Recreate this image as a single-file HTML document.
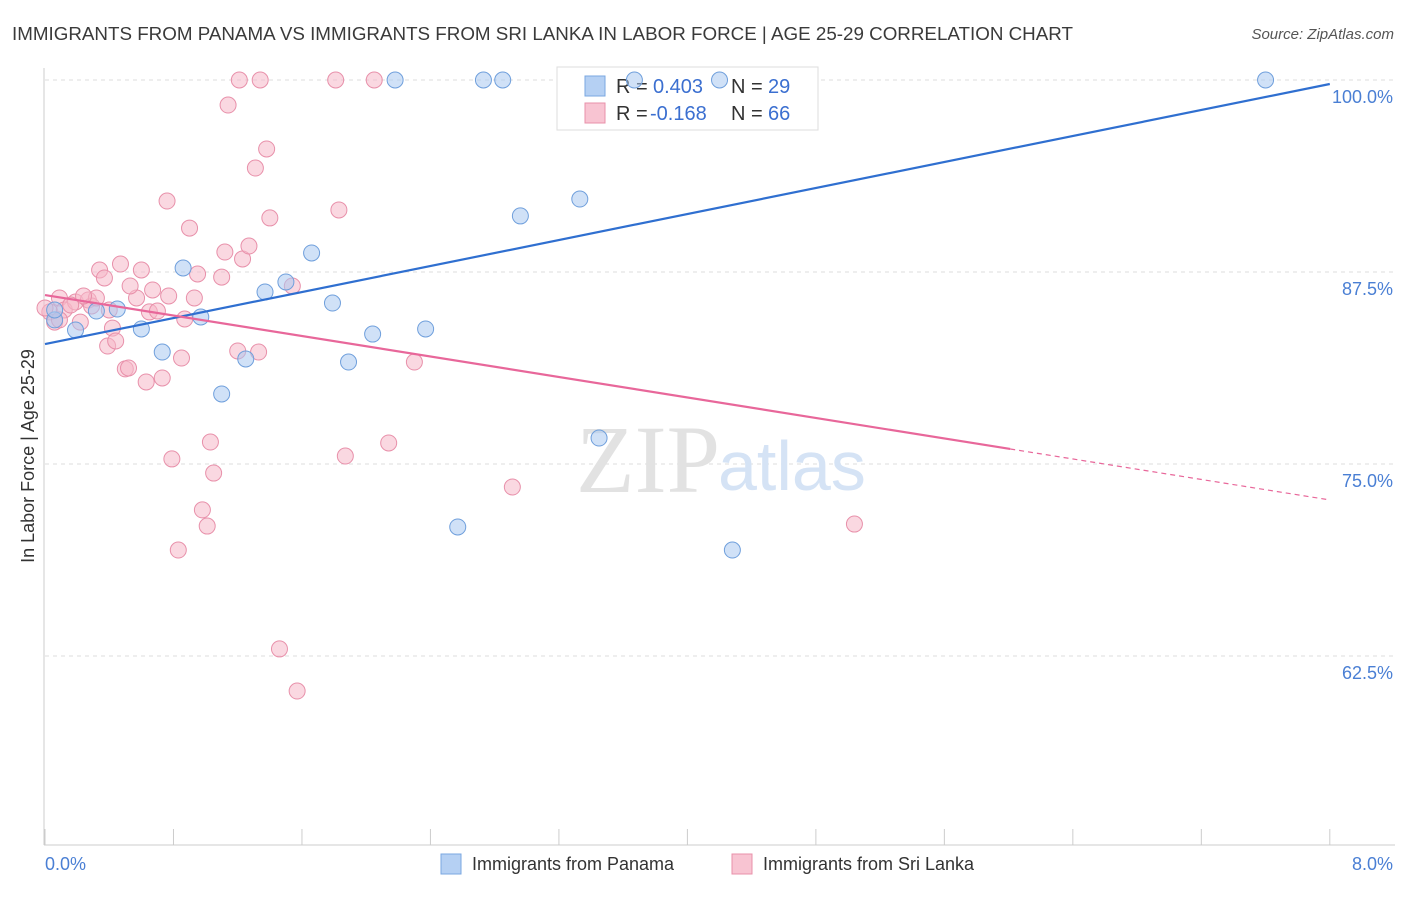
<!DOCTYPE html>
<html><head><meta charset="utf-8"><style>
body{margin:0;background:#fff;font-family:"Liberation Sans",sans-serif;}
svg text{font-family:"Liberation Sans",sans-serif;}
</style></head><body>
<svg id="chart" width="1406" height="892">
<text x="12" y="40" font-size="18.8" fill="#3a3a3a">IMMIGRANTS FROM PANAMA VS IMMIGRANTS FROM SRI LANKA IN LABOR FORCE | AGE 25-29 CORRELATION CHART</text>
<text x="1394" y="39" font-size="15" fill="#555" font-style="italic" text-anchor="end">Source: ZipAtlas.com</text>
<g id="grid"></g>
<text x="720" y="492" font-size="96" fill="#e2e2e2" text-anchor="end" style="font-family:'Liberation Serif',serif">ZIP</text>
<text x="718" y="490" font-size="70" fill="#d5e3f5">atlas</text>
<line x1="44" y1="68" x2="44" y2="845" stroke="#ccc"/>
<line x1="44" y1="845" x2="1395" y2="845" stroke="#ccc"/>
<g id="xticks"></g>
<g id="ylabels"></g>
<text x="45" y="870" font-size="18" fill="#4a7fd4">0.0%</text>
<text x="1393" y="870" font-size="18" fill="#4a7fd4" text-anchor="end">8.0%</text>
<text transform="translate(34,456) rotate(-90)" font-size="18" fill="#333" text-anchor="middle">In Labor Force | Age 25-29</text>
<g>
<rect x="557" y="67" width="261" height="63" fill="#fff" stroke="#ddd"/>
<rect x="585" y="76" width="20" height="20" fill="#b5d0f3" stroke="#7aa7e0"/>
<rect x="585" y="103" width="20" height="20" fill="#f8c4d2" stroke="#e890aa"/>
<text x="616" y="93" font-size="20" fill="#333">R =</text>
<text x="653" y="93" font-size="20" fill="#3b6fd0">0.403</text>
<text x="731" y="93" font-size="20" fill="#333">N =</text>
<text x="768" y="93" font-size="20" fill="#3b6fd0">29</text>
<text x="616" y="120" font-size="20" fill="#333">R =</text>
<text x="650" y="120" font-size="20" fill="#3b6fd0">-0.168</text>
<text x="731" y="120" font-size="20" fill="#333">N =</text>
<text x="768" y="120" font-size="20" fill="#3b6fd0">66</text>
</g>
<g id="pts"></g>
<g id="trends"></g>
<g>
<rect x="441" y="854" width="20" height="20" fill="#b5d0f3" stroke="#7aa7e0"/>
<text x="472" y="870" font-size="18" fill="#333">Immigrants from Panama</text>
<rect x="732" y="854" width="20" height="20" fill="#f8c4d2" stroke="#e890aa"/>
<text x="763" y="870" font-size="18" fill="#333">Immigrants from Sri Lanka</text>
</g>
</svg>
<script>
const yTicks=[100,87.5,75,62.5];
const yTickLabels=["100.0%","87.5%","75.0%","62.5%"];
const xTicks=[0,0.8,1.6,2.4,3.2,4,4.8,5.6,6.4,7.2,8];
const panamaX=[0.06,0.19,0.32,0.45,0.60,0.73,0.86,0.97,1.10,1.25,1.37,1.50,1.66,1.79,1.89,2.04,2.18,2.37,2.57,2.73,2.85,2.96,3.33,3.45,3.67,4.20,4.28,7.60,0.06];
const panamaY=[84.38,83.72,84.96,85.09,83.79,82.29,87.76,84.57,79.56,81.84,86.20,86.85,88.74,85.48,81.64,83.46,100,83.79,70.90,100,100,91.15,92.25,76.69,100,100,69.40,100,85.03];
const lankaX=[0.03,0.06,0.09,0.12,0.19,0.22,0.27,0.29,0.32,0.34,0.37,0.39,0.42,0.44,0.47,0.50,0.52,0.57,0.60,0.63,0.65,0.67,0.70,0.73,0.76,0.77,0.79,0.83,0.85,0.87,0.90,0.93,0.95,0.98,1.01,1.03,1.05,1.10,1.12,1.14,1.20,1.21,1.23,1.27,1.31,1.33,1.34,1.38,1.40,1.46,1.54,1.57,1.81,1.83,1.87,2.05,2.14,2.30,2.91,5.04,0.40,0.16,0.00,0.53,0.09,0.24];
const lankaY=[84.90,84.24,85.81,85.03,85.55,84.24,85.68,85.29,85.81,87.63,87.11,82.68,83.85,83.01,88.02,81.19,81.25,85.81,87.63,80.34,84.90,86.33,84.96,80.60,92.12,85.94,75.33,69.40,81.90,84.44,90.36,85.81,87.37,72.01,70.96,76.43,74.41,87.17,88.80,98.37,82.36,100,88.35,89.19,94.27,82.29,100,95.51,91.02,62.96,86.59,60.22,100,91.54,75.52,100,76.37,81.64,73.50,71.09,85.03,85.35,85.16,86.59,84.38,85.94];
const panamaTrend=[82.81,99.74];
const lankaTrend=[86.00,72.66];
const lankaSolidEnd=6.01;

const NS="http://www.w3.org/2000/svg";
const sx=v=>45+v*160.6;
const sy=v=>80+(100-v)*15.36;
function mk(tag,attrs,parent){const e=document.createElementNS(NS,tag);for(const k in attrs)e.setAttribute(k,attrs[k]);parent.appendChild(e);return e;}
const grid=document.getElementById('grid'),yl=document.getElementById('ylabels'),xt=document.getElementById('xticks');
yTicks.forEach((t,i)=>{
  const l=mk('line',{x1:45,x2:1395,y1:sy(t),y2:sy(t),stroke:'#ddd','stroke-dasharray':'4,4'},grid);
  
  
  const tx=mk('text',{x:1393,y:sy(t)+23,'font-size':18,fill:'#4a7fd4','text-anchor':'end'},yl);
  tx.textContent=yTickLabels[i];
  
  
});
xTicks.forEach(t=>{
  const l=mk('line',{x1:sx(t),x2:sx(t),y1:829,y2:845,stroke:'#ccc'},xt);
  
  
});
const pts=document.getElementById('pts');
function dots(X,Y,fill,stroke,name){
  X.forEach((x,i)=>{
    const c=mk('circle',{cx:sx(x),cy:sy(Y[i]),r:8,fill:fill,'fill-opacity':0.55,stroke:stroke,'stroke-width':1},pts);
    
    
  });
}
dots(lankaX,lankaY,'#f5b8c8','#e890aa','point-sri-lanka');
dots(panamaX,panamaY,'#a9c8f0','#6f9fdc','point-panama');
const tr=document.getElementById('trends');
const b=mk('line',{x1:sx(0),y1:sy(panamaTrend[0]),x2:sx(8),y2:sy(panamaTrend[1]),stroke:'#2f6fd0','stroke-width':2.2},tr);


const ly=x=>lankaTrend[0]+(lankaTrend[1]-lankaTrend[0])*x/8;
const p1=mk('line',{x1:sx(0),y1:sy(ly(0)),x2:sx(lankaSolidEnd),y2:sy(ly(lankaSolidEnd)),stroke:'#e8679a','stroke-width':2.2},tr);


const p2=mk('line',{x1:sx(lankaSolidEnd),y1:sy(ly(lankaSolidEnd)),x2:sx(8),y2:sy(ly(8)),stroke:'#e8679a','stroke-width':1.2,'stroke-dasharray':'5,4'},tr);


</script>
</body></html>
